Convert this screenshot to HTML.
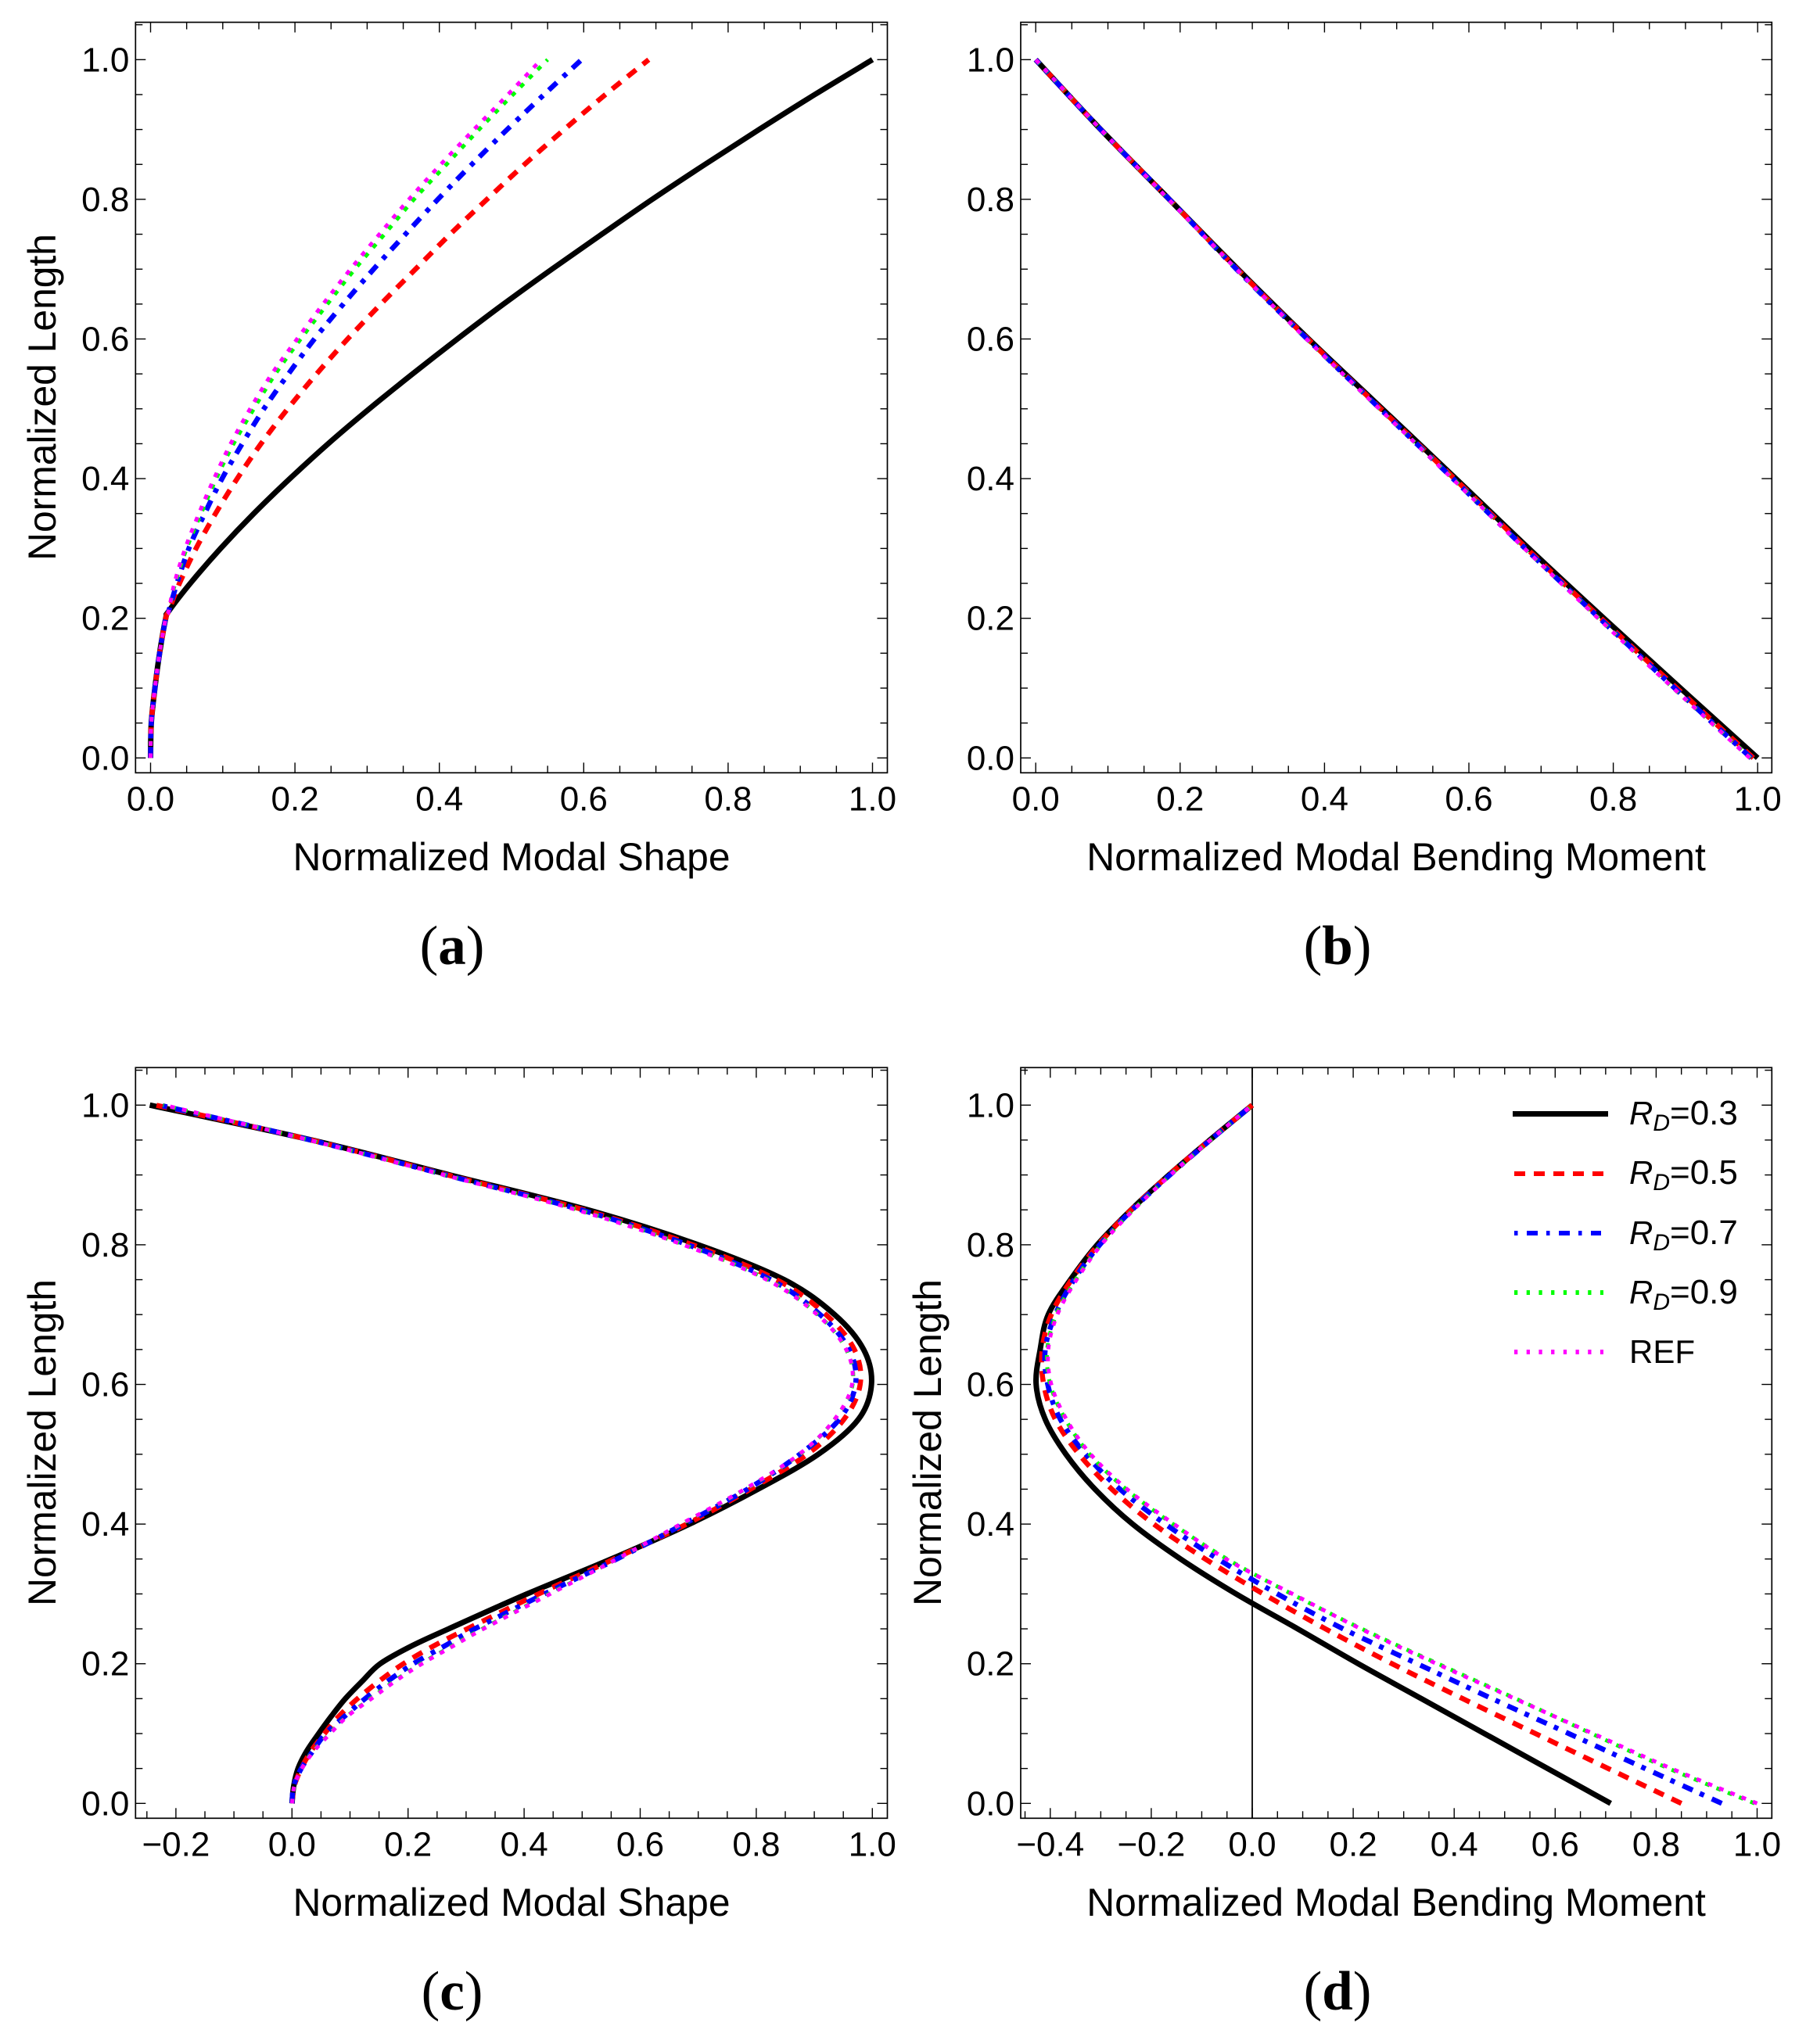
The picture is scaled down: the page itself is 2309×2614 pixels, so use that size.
<!DOCTYPE html>
<html lang="en">
<head>
<meta charset="utf-8">
<title>Normalized modal shapes and bending moments</title>
<style>
html,body{margin:0;padding:0;background:#fff;}
svg{display:block;}
text{font-family:"Liberation Sans",sans-serif;fill:#000;}
.tick{font-size:44px;}
.title{font-size:49.8px;}
.leg{font-size:42px;}
.leg-num{font-size:44px;}
.sub{font-size:30px;font-style:italic;}
.panel-tag{font-size:71px;font-family:"Liberation Serif",serif;}
</style>
</head>
<body>
<svg id="figure" xmlns="http://www.w3.org/2000/svg" width="2309" height="2614" viewBox="0 0 2309 2614">
  <rect x="0" y="0" width="2309" height="2614" fill="#fff"/>
  <g id="plots"></g>

  <g>
    <text class="title" x="654" y="1113" text-anchor="middle">Normalized Modal Shape</text>
    <text class="title" transform="translate(71 508) rotate(-90)" text-anchor="middle">Normalized Length</text>
    <text class="panel-tag" x="578" y="1233" text-anchor="middle">(<tspan font-weight="bold">a</tspan>)</text>
  </g>
  <g>
    <text class="title" x="1785" y="1113" text-anchor="middle">Normalized Modal Bending Moment</text>
    <text class="panel-tag" x="1710" y="1233" text-anchor="middle">(<tspan font-weight="bold">b</tspan>)</text>
  </g>
  <g>
    <text class="title" x="654" y="2450" text-anchor="middle">Normalized Modal Shape</text>
    <text class="title" transform="translate(71 1845) rotate(-90)" text-anchor="middle">Normalized Length</text>
    <text class="panel-tag" x="578" y="2570" text-anchor="middle">(<tspan font-weight="bold">c</tspan>)</text>
  </g>
  <g>
    <text class="title" x="1785" y="2450" text-anchor="middle">Normalized Modal Bending Moment</text>
    <text class="title" transform="translate(1203 1845) rotate(-90)" text-anchor="middle">Normalized Length</text>
    <text class="panel-tag" x="1710" y="2570" text-anchor="middle">(<tspan font-weight="bold">d</tspan>)</text>
  </g>

  <g>
    <g>
      <line x1="1934" y1="1424.5" x2="2056" y2="1424.5" stroke="#000" stroke-width="7"/>
      <text class="leg" x="2083" y="1438"><tspan font-style="italic">R</tspan><tspan class="sub" dy="8">D</tspan><tspan class="leg-num" dy="-8">=0.3</tspan></text>
    </g>
    <g>
      <line x1="1936" y1="1501" x2="2050" y2="1501" stroke="#f00" stroke-width="6" stroke-dasharray="14 11"/>
      <text class="leg" x="2083" y="1514"><tspan font-style="italic">R</tspan><tspan class="sub" dy="8">D</tspan><tspan class="leg-num" dy="-8">=0.5</tspan></text>
    </g>
    <g>
      <line x1="1936" y1="1577" x2="2047" y2="1577" stroke="#00f" stroke-width="6" stroke-dasharray="4.5 11.5 14 11"/>
      <text class="leg" x="2083" y="1591"><tspan font-style="italic">R</tspan><tspan class="sub" dy="8">D</tspan><tspan class="leg-num" dy="-8">=0.7</tspan></text>
    </g>
    <g>
      <line x1="1936" y1="1653" x2="2050" y2="1653" stroke="#0f0" stroke-width="6" stroke-dasharray="4.3 11.4"/>
      <text class="leg" x="2083" y="1667"><tspan font-style="italic">R</tspan><tspan class="sub" dy="8">D</tspan><tspan class="leg-num" dy="-8">=0.9</tspan></text>
    </g>
    <g>
      <line x1="1936" y1="1729" x2="2050" y2="1729" stroke="#f0f" stroke-width="6" stroke-dasharray="4.3 11.4"/>
      <text class="leg" x="2083" y="1743">REF</text>
    </g>
  </g>
</svg>

<script>
// ---------- Panel (a) data: Normalized Modal Shape vs Normalized Length ----------
const lengthsA = [0,.05,.1,.15,.2,.21,.25,.3,.35,.4,.45,.5,.55,.6,.65,.7,.75,.8,.85,.9,.95,1];
const shapeA_RD03 = [0,.001,.006,.0125,.021,.025,.055,.097,.143,.193,.246,.303,.363,.425,.489,.556,.625,.695,.768,.843,.92,1];
const shapeA_RD05 = [0,.001,.006,.0125,.021,.025,.04,.063,.09,.12,.153,.19,.23,.273,.319,.367,.415,.466,.518,.573,.63,.69];
const shapeA_RD07 = [0,.001,.006,.0125,.021,.025,.0365,.053,.075,.099,.127,.157,.191,.227,.267,.309,.353,.398,.445,.494,.545,.597];
const shapeA_RD09 = [0,.001,.006,.0125,.021,.025,.034,.05,.07,.091,.115,.143,.173,.208,.245,.283,.324,.365,.41,.455,.502,.55];
const shapeA_REF  = [0,.001,.006,.0125,.021,.025,.033,.048,.067,.088,.111,.138,.168,.203,.239,.277,.317,.358,.402,.448,.495,.541];

// ---------- Panel (b) data: Normalized Modal Bending Moment vs Normalized Length ----------
const lengthsB = [0,.1,.2,.3,.4,.5,.6,.7,.8,.9,1];
const momentB_RD03 = [1,.893,.787,.683,.582,.48,.378,.28,.185,.09,0];
const momentB_RD05 = [.994,.888,.783,.68,.58,.478,.377,.279,.185,.09,0];
const momentB_RD07 = [.991,.885,.781,.678,.578,.477,.376,.278,.185,.09,0];
const momentB_RD09 = [.99,.883,.78,.677,.578,.476,.375,.278,.184,.09,0];
const momentB_REF  = [.989,.883,.779,.677,.577,.476,.375,.278,.184,.09,0];

// ---------- Panel (c) data: second mode shape ----------
const lengthsC = [0,.025,.05,.075,.1,.125,.15,.175,.2,.225,.25,.3,.35,.4,.45,.5,.55,.6,.65,.7,.75,.8,.85,.9,.95,1];
const shapeC_RD03 = [0,.003,.0105,.0255,.046,.068,.092,.121,.152,.205,.27,.405,.55,.685,.803,.907,.976,.9985,.985,.935,.848,.7,.51,.272,.034,-.245];
const shapeC_RD05 = [0,.004,.016,.033,.056,.081,.113,.15,.192,.243,.302,.425,.555,.68,.79,.888,.951,.979,.969,.92,.835,.69,.503,.268,.033,-.235];
const shapeC_RD07 = [0,.003,.016,.036,.058,.091,.126,.165,.209,.262,.315,.435,.56,.675,.785,.875,.943,.971,.96,.91,.825,.682,.498,.265,.032,-.228];
const shapeC_RD09 = [0,.004,.017,.037,.065,.095,.135,.176,.222,.275,.328,.443,.56,.671,.781,.875,.935,.966,.955,.906,.82,.676,.493,.263,.031,-.222];
const shapeC_REF  = [0,.004,.017,.038,.066,.096,.137,.178,.224,.277,.33,.445,.56,.67,.78,.874,.935,.965,.955,.905,.818,.674,.49,.262,.03,-.22];

// ---------- Panel (d) data: second mode bending moment ----------
const lengthsD = [0,.05,.1,.15,.2,.25,.3,.35,.4,.45,.5,.55,.6,.65,.7,.75,.8,.85,.9,.95,1];
const momentD_RD03 = [.71,.585,.46,.335,.21,.09,-.032,-.142,-.237,-.3115,-.369,-.41,-.428,-.42,-.404,-.36,-.307,-.24,-.165,-.084,0];
const momentD_RD05 = [.85,.705,.561,.417,.277,.145,.022,-.093,-.195,-.278,-.343,-.39,-.413,-.416,-.398,-.358,-.305,-.24,-.165,-.084,0];
const momentD_RD07 = [.93,.778,.627,.475,.327,.18,.05,-.068,-.172,-.262,-.33,-.38,-.405,-.41,-.39,-.353,-.302,-.238,-.163,-.083,0];
const momentD_RD09 = [.995,.825,.672,.522,.368,.217,.078,-.05,-.157,-.25,-.322,-.37,-.4,-.406,-.388,-.35,-.3,-.236,-.162,-.083,0];
const momentD_REF  = [1,.83,.675,.52,.365,.215,.08,-.052,-.155,-.248,-.32,-.368,-.398,-.404,-.386,-.348,-.299,-.235,-.162,-.083,0];

// ---------- Tick data ----------
const yTickLabels = ["0.0","0.2","0.4","0.6","0.8","1.0"];
const yMinorTicks = [.05,.1,.15,.25,.3,.35,.45,.5,.55,.65,.7,.75,.85,.9,.95,1.05];
const xTickLabelsAB = ["0.0","0.2","0.4","0.6","0.8","1.0"];
const xMinorTicksAB = [.05,.1,.15,.25,.3,.35,.45,.5,.55,.65,.7,.75,.85,.9,.95];
const xTickLabelsC = ["\u22120.2","0.0","0.2","0.4","0.6","0.8","1.0"];
const xMinorTicksC = [-.25,-.15,-.1,-.05,.05,.1,.15,.25,.3,.35,.45,.5,.55,.65,.7,.75,.85,.9,.95];
const xTickLabelsD = ["\u22120.4","\u22120.2","0.0","0.2","0.4","0.6","0.8","1.0"];
const xMinorTicksD = [-.45,-.35,-.3,-.25,-.15,-.1,-.05,.05,.1,.15,.25,.3,.35,.45,.5,.55,.65,.7,.75,.85,.9,.95];

const SVG_NS = 'http://www.w3.org/2000/svg';
const plots = document.getElementById('plots');

function mk(parent, tag, attrs) {
  const el = document.createElementNS(SVG_NS, tag);
  for (const k in attrs) el.setAttribute(k, attrs[k]);
  parent.appendChild(el);
  return el;
}

function smoothPath(pts) {
  let d = 'M' + pts[0][0].toFixed(2) + ' ' + pts[0][1].toFixed(2);
  for (let i = 0; i < pts.length - 1; i++) {
    const p0 = pts[Math.max(i - 1, 0)], p1 = pts[i], p2 = pts[i + 1], p3 = pts[Math.min(i + 2, pts.length - 1)];
    const c1x = p1[0] + (p2[0] - p0[0]) / 6, c1y = p1[1] + (p2[1] - p0[1]) / 6;
    const c2x = p2[0] - (p3[0] - p1[0]) / 6, c2y = p2[1] - (p3[1] - p1[1]) / 6;
    d += 'C' + c1x.toFixed(2) + ' ' + c1y.toFixed(2) + ' ' + c2x.toFixed(2) + ' ' + c2y.toFixed(2) + ' ' + p2[0].toFixed(2) + ' ' + p2[1].toFixed(2);
  }
  return d;
}

const seriesStyles = [
  {key: 'rd-03', color: '#000', width: 7, dash: 'none'},
  {key: 'rd-05', color: '#f00', width: 6.5, dash: '14 11'},
  {key: 'rd-07', color: '#00f', width: 6.5, dash: '14 11 6 10'},
  {key: 'rd-09', color: '#0f0', width: 5, dash: '6 9.5'},
  {key: 'ref',   color: '#f0f', width: 5, dash: '6 9.5'}
];

const parseLabel = s => Number(s.replace('\u2212', '-'));

function drawPanel(p) {
  const g = mk(plots, 'g', {});
  
  

  const frame = mk(g, 'rect', {x: p.left, y: p.top, width: p.right - p.left, height: p.bottom - p.top, fill: 'none', stroke: '#000', 'stroke-width': 1.7});
  
  

  const xMajor = p.xLabels.map(parseLabel);
  const yMajor = yTickLabels.map(parseLabel);
  const tickG = mk(g, 'g', {stroke: '#000', 'stroke-width': 1.4});
  
  

  const addXTick = (v, len) => {
    const x = p.xScale(v);
    mk(tickG, 'line', {x1: x, x2: x, y1: p.bottom, y2: p.bottom - len});
    mk(tickG, 'line', {x1: x, x2: x, y1: p.top, y2: p.top + len});
  };
  const addYTick = (v, len) => {
    const y = p.yScale(v);
    mk(tickG, 'line', {x1: p.left, x2: p.left + len, y1: y, y2: y});
    mk(tickG, 'line', {x1: p.right, x2: p.right - len, y1: y, y2: y});
  };
  xMajor.forEach(v => addXTick(v, 13));
  p.xMinor.forEach(v => addXTick(v, 9));
  yMajor.forEach(v => addYTick(v, 13));
  yMinorTicks.forEach(v => addYTick(v, 9));

  p.xLabels.forEach(label => {
    const t = mk(g, 'text', {x: p.xScale(parseLabel(label)), y: p.bottom + 48, 'text-anchor': 'middle', class: 'tick'});
    
    
    t.textContent = label;
  });
  yTickLabels.forEach(label => {
    const t = mk(g, 'text', {x: p.left - 8, y: p.yScale(parseLabel(label)) + 15, 'text-anchor': 'end', class: 'tick'});
    
    
    t.textContent = label;
  });

  if (p.zeroLine) {
    const z = mk(g, 'line', {x1: p.xScale(0), x2: p.xScale(0), y1: p.top, y2: p.bottom, stroke: '#000', 'stroke-width': 1.8});
    
    
  }

  p.series.forEach((values, i) => {
    const s = seriesStyles[i];
    const pts = values.map((v, j) => [p.xScale(v), p.yScale(p.lengths[j])]);
    const path = mk(g, 'path', {d: smoothPath(pts), fill: 'none', stroke: s.color, 'stroke-width': s.width, 'stroke-linejoin': 'round'});
    if (s.dash !== 'none') path.setAttribute('stroke-dasharray', s.dash);
    
    
  });
}

const yScaleTop = v => 969.3 - 893 * v;
const yScaleBottom = v => 2306.3 - 893 * v;

drawPanel({
  id: 'a', left: 173.3, right: 1134.5, top: 28.5, bottom: 988.3,
  xScale: v => 192.5 + 923 * v, yScale: yScaleTop,
  xLabels: xTickLabelsAB, xMinor: xMinorTicksAB, lengths: lengthsA,
  series: [shapeA_RD03, shapeA_RD05, shapeA_RD07, shapeA_RD09, shapeA_REF]
});
drawPanel({
  id: 'b', left: 1305, right: 2265.3, top: 28.5, bottom: 988.3,
  xScale: v => 1324.2 + 923 * v, yScale: yScaleTop,
  xLabels: xTickLabelsAB, xMinor: xMinorTicksAB, lengths: lengthsB,
  series: [momentB_RD03, momentB_RD05, momentB_RD07, momentB_RD09, momentB_REF]
});
drawPanel({
  id: 'c', left: 173.3, right: 1134.5, top: 1365.3, bottom: 2325.3,
  xScale: v => 373.3 + 742 * v, yScale: yScaleBottom,
  xLabels: xTickLabelsC, xMinor: xMinorTicksC, lengths: lengthsC,
  series: [shapeC_RD03, shapeC_RD05, shapeC_RD07, shapeC_RD09, shapeC_REF]
});
drawPanel({
  id: 'd', left: 1305, right: 2265.3, top: 1365.3, bottom: 2325.3,
  xScale: v => 1601 + 645.5 * v, yScale: yScaleBottom,
  xLabels: xTickLabelsD, xMinor: xMinorTicksD, lengths: lengthsD, zeroLine: true,
  series: [momentD_RD03, momentD_RD05, momentD_RD07, momentD_RD09, momentD_REF]
});
</script>
</body>
</html>
